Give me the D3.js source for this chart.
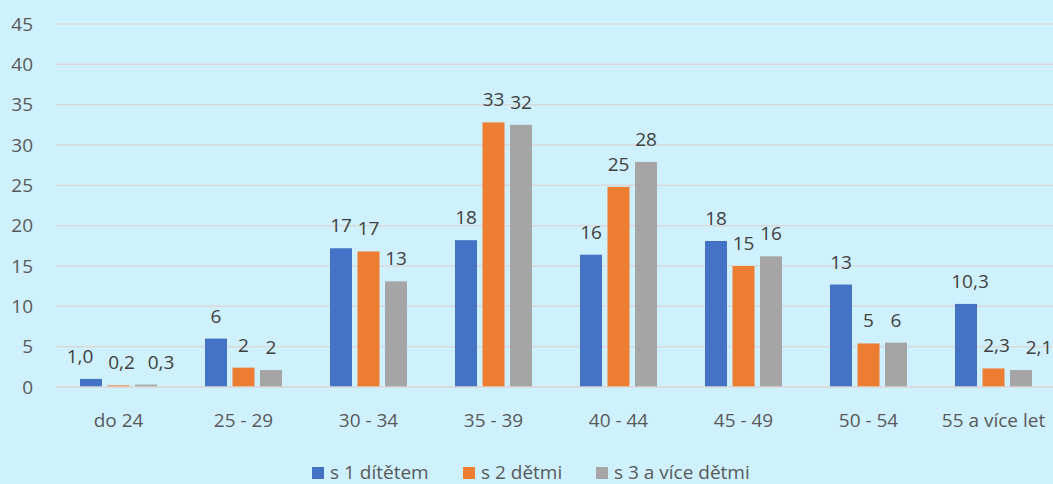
<!DOCTYPE html>
<html>
<head>
<meta charset="utf-8">
<script src="https://cdn.jsdelivr.net/npm/d3@7"></script>
<style>
  body { margin: 0; background: #CFF1FE; }
  svg { display: block; font-family: "Open Sans", "Noto Sans", sans-serif; }
</style>
</head>
<body>
<svg id="chart" width="1053" height="484"></svg>
<script>
// ====================== DATA ======================
const categories = ["do 24", "25 - 29", "30 - 34", "35 - 39", "40 - 44", "45 - 49", "50 - 54", "55 a více let"];
const seriesNames = ["s 1 dítětem", "s 2 dětmi", "s 3 a více dětmi"];
const seriesColors = ["#4472C4", "#ED7D31", "#A5A5A5"];
const oneChild   = [1.0, 6.0, 17.2, 18.2, 16.4, 18.1, 12.7, 10.3];
const twoKids    = [0.2, 2.4, 16.8, 32.8, 24.8, 15.0, 5.4, 2.3];
const threeKids  = [0.3, 2.1, 13.1, 32.5, 27.9, 16.2, 5.5, 2.1];
const oneLabels   = ["1,0", "6", "17", "18", "16", "18", "13", "10,3"];
const twoLabels   = ["0,2", "2", "17", "33", "25", "15", "5", "2,3"];
const threeLabels = ["0,3", "2", "13", "32", "28", "16", "6", "2,1"];
const yTicks = [0, 5, 10, 15, 20, 25, 30, 35, 40, 45];

const allValues = [oneChild, twoKids, threeKids];
const allLabels = [oneLabels, twoLabels, threeLabels];

// ====================== LAYOUT ======================
let width = 1053, height = 484;
let marginLeft = 56, plotRight = 1056, plotTop = 24, plotBottom = 387;
let textColor = "#595959", gridColor = "#D9D9D9";
// label nudges (px) where labels would collide, like Excel spreads them
let labelNudge = {
  "do 24": [-11, 3, 15],
  "55 a více let": [4, 3, 18]
};

let svg = d3.select("#chart");
svg.append("rect").attr("width", width).attr("height", height).attr("fill", "#CFF1FE");

let x = d3.scaleBand().domain(categories).range([marginLeft, plotRight]);
let xInner = d3.scaleBand().domain(d3.range(3)).range([0, 77]).paddingInner(0.2);
let y = d3.scaleLinear().domain([0, 45]).range([plotBottom, plotTop]);

// gridlines
svg.append("g")
  .selectAll("line")
  .data(yTicks)
  .enter().append("line")
  .attr("x1", marginLeft).attr("x2", plotRight)
  .attr("y1", d => y(d)).attr("y2", d => y(d))
  .attr("stroke", gridColor).attr("stroke-width", 1.5);

// y tick labels
svg.append("g")
  .selectAll("text")
  .data(yTicks)
  .enter().append("text")
  .attr("x", 33).attr("y", d => y(d))
  .attr("dy", "0.35em")
  .attr("text-anchor", "end")
  .attr("fill", textColor)
  .style("font-size", "19px")
  .text(d => d);

// bars + labels
allValues.forEach((vals, s) => {
  let g = svg.append("g");
  let offset = d => x(d) + (x.bandwidth() - 77) / 2 + xInner(s);
  g.selectAll("rect")
    .data(categories)
    .enter().append("rect")
    .attr("x", d => offset(d))
    .attr("width", xInner.bandwidth())
    .attr("y", (d, i) => y(vals[i]))
    .attr("height", (d, i) => y(0) - y(vals[i]))
    .attr("fill", seriesColors[s]);
  g.selectAll("text")
    .data(categories)
    .enter().append("text")
    .attr("x", d => offset(d) + xInner.bandwidth() / 2 + (labelNudge[d] ? labelNudge[d][s] : 0))
    .attr("y", (d, i) => y(vals[i]) - 16)
    .attr("text-anchor", "middle")
    .attr("fill", "#404040")
    .style("font-size", "19px")
    .text((d, i) => allLabels[s][i]);
});

// x axis line
svg.append("line")
  .attr("x1", marginLeft).attr("x2", plotRight)
  .attr("y1", plotBottom).attr("y2", plotBottom)
  .attr("stroke", gridColor).attr("stroke-width", 1.5);

// x labels
svg.append("g")
  .selectAll("text")
  .data(categories)
  .enter().append("text")
  .attr("x", d => x(d) + x.bandwidth() / 2)
  .attr("y", 420)
  .attr("dy", "0.35em")
  .attr("text-anchor", "middle")
  .attr("fill", textColor)
  .style("font-size", "19px")
  .text(d => d);

// legend
let legendX = [312, 463, 596];
let legend = svg.append("g");
seriesNames.forEach((name, i) => {
  legend.append("rect")
    .attr("x", legendX[i]).attr("y", 467)
    .attr("width", 12).attr("height", 12)
    .attr("fill", seriesColors[i]);
  legend.append("text")
    .attr("x", legendX[i] + 18).attr("y", 472)
    .attr("dy", "0.35em")
    .attr("fill", textColor)
    .style("font-size", "19px")
    .text(name);
});
</script>
</body>
</html>
